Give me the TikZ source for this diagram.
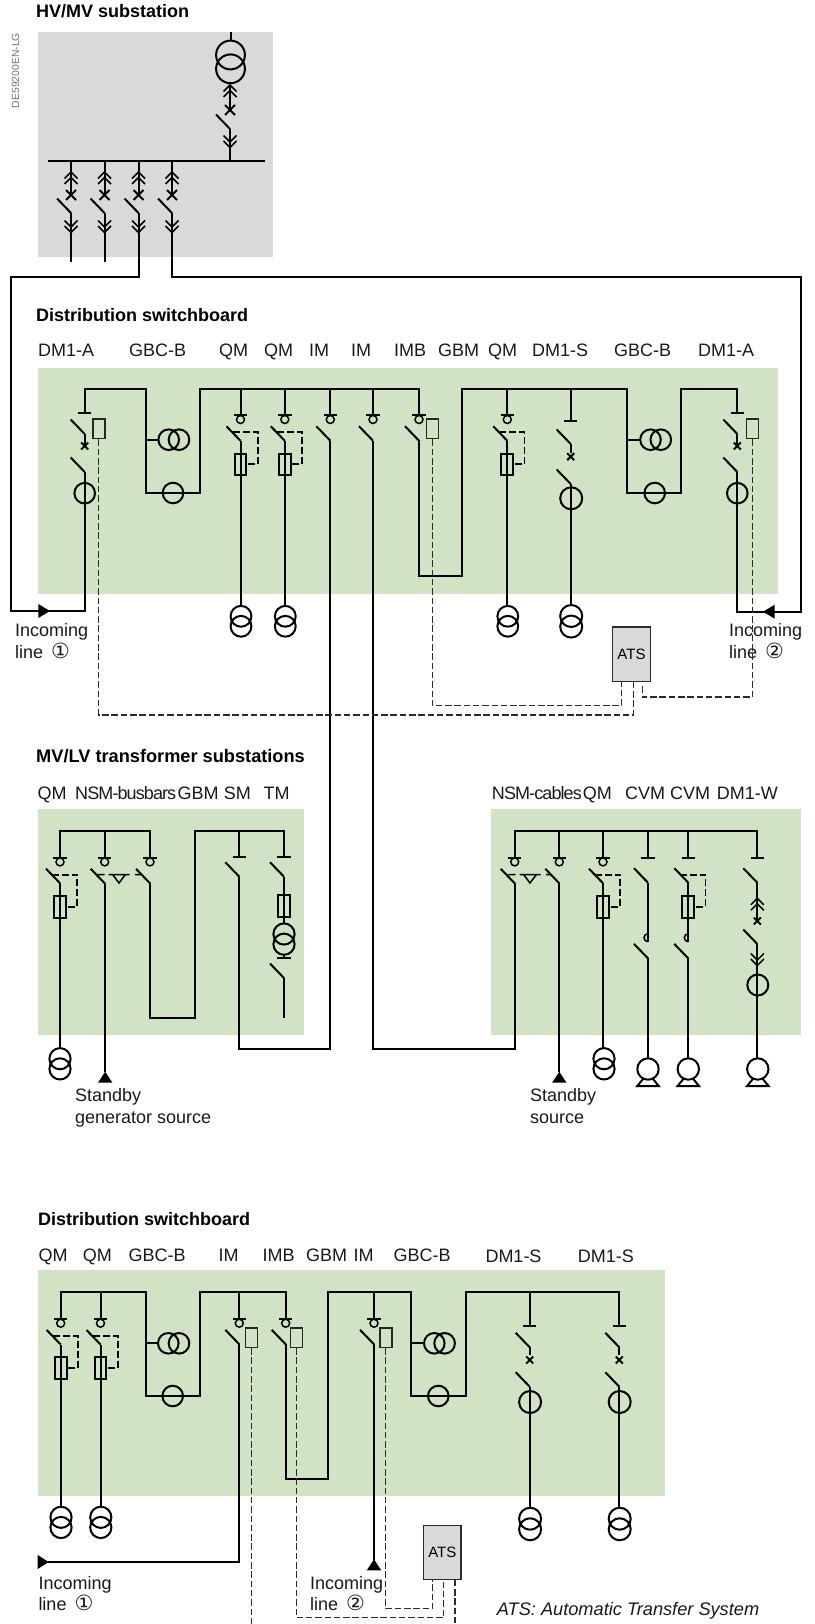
\documentclass[tikz,border=0pt]{standalone}
\usepackage{fontspec}
\setmainfont{Liberation Sans}
\newfontfamily\symbfont{DejaVu Sans}
\definecolor{panelgrey}{HTML}{D9D9D9}
\definecolor{panelgreen}{HTML}{D1E3C4}
\definecolor{ctrlgrey}{HTML}{2B2B2B}
\tikzset{
  wire/.style={line width=2pt, black},
  slim/.style={line width=1.5pt, black},
  ctrl/.style={line width=1.3pt, ctrlgrey, dash pattern=on 6.5pt off 2.8pt},
  fusedash/.style={line width=1.7pt, black, dash pattern=on 7pt off 3pt},
  coil/.style={draw=black!85, line width=1.6pt, minimum width=12pt, minimum height=19.6pt, inner sep=0pt},
  atsbox/.style={draw=ctrlgrey, line width=1.3pt, fill=panelgrey, minimum width=37.6pt, minimum height=54.4pt, inner sep=0pt, font=\fontsize{15}{15}\selectfont},
  lbl/.style={anchor=base west, inner sep=0pt, font=\fontsize{18}{18}\selectfont, text=black!90},
  title/.style={anchor=base west, inner sep=0pt, font=\fontsize{18}{18}\selectfont\bfseries},
  twoline/.style={anchor=north west, inner sep=0pt, align=left, font=\fontsize{18}{21.4}\selectfont, text=black!90}
}
% Symbols
\newcommand{\teebar}[2]{\draw[wire] (#1-6.7,#2) -- (#1+6.7,#2);}
\newcommand{\earthring}[2]{\draw[slim] (#1,#2+4.2) circle (4);}
\newcommand{\blade}[2]{\draw[wire] (#1-14,#2-14.5) -- (#1,#2);}
\newcommand{\xmark}[3][3.5]{\draw[wire] (#2-#1,#3-#1) -- (#2+#1,#3+#1) (#2-#1,#3+#1) -- (#2+#1,#3-#1);}
\newcommand{\chevup}[2]{\draw[slim] (#1-6.5,#2+6.5) -- (#1,#2) -- (#1+6.5,#2+6.5) (#1-6.5,#2+12) -- (#1,#2+5.5) -- (#1+6.5,#2+12);}
\newcommand{\chevdown}[2]{\draw[slim] (#1-6.5,#2-6.5) -- (#1,#2) -- (#1+6.5,#2-6.5) (#1-6.5,#2-1) -- (#1,#2+5.5) -- (#1+6.5,#2-1);}
\newcommand{\ctpair}[3]{\draw[wire] (#1,#2) circle (#3) (#1,#2+0.96*#3) circle (#3);}
\newcommand{\ctflat}[3]{\draw[wire] (#1,#3) circle (10.3) (#2,#3) circle (10.3);}
\newcommand{\ringct}[3][10.3]{\draw[wire] (#2,#3) circle (#1);}
\newcommand{\fusedcell}[2]{
  \teebar{#1}{#2} \earthring{#1}{#2} \blade{#1}{#2+25.5}
  \draw[wire] (#1-5.9,#2+38.3) rectangle (#1+5.9,#2+60);
  \draw[fusedash] (#1-8,#2+17) -| (#1+17.3,#2+49) -- (#1+6,#2+49);
}
\newcommand{\motor}[2]{\draw[wire] (#1,#2) circle (10.7) (#1-5,#2+10) -- (#1-10.7,#2+17) -- (#1+10.7,#2+17) -- (#1+5,#2+10);}
\newcommand{\interlock}[2]{\draw[slim] (#1-10.5,#2) -- (#1+10.5,#2) (#1-6.3,#2) -- (#1,#2+8.3) -- (#1+6.3,#2) (#1-21.7,#2) -- (#1-14.5,#2) (#1+16,#2) -- (#1+22,#2);}
\newcommand{\srcup}[2]{\fill[black] (#1,#2) -- (#1+7.2,#2+11) -- (#1-7.2,#2+11) -- cycle;}
\newcommand{\numone}{{\fontsize{21}{21.4}\selectfont\symbfont ①}}
\newcommand{\numtwo}{{\fontsize{21}{21.4}\selectfont\symbfont ②}}

\begin{document}
\begin{tikzpicture}[x=1pt, y=-1pt]
\useasboundingbox (0,0) rectangle (814,1624);
% Panels
\fill[panelgrey] (38,32) rectangle (273,257);
\fill[panelgreen] (38,368) rectangle (778,594);
\fill[panelgreen] (38,809) rectangle (304,1035);
\fill[panelgreen] (491,809) rectangle (801,1035);
\fill[panelgreen] (38,1270) rectangle (665,1496);
% Titles
\node[title] (titleHv) at (36,18) {HV/MV substation};
\node[title] (titleDsA) at (36,321) {Distribution switchboard};
\node[title, font=\fontsize{18.2}{18}\selectfont\bfseries] (titleTr) at (36,762) {MV/LV transformer substations};
\node[title] (titleDsB) at (38,1225) {Distribution switchboard};
\node[rotate=90, inner sep=0pt, text=black!55, font=\fontsize{10.4}{10.4}\selectfont] (refcode) at (15.5,70.5) {DE59200EN-LG};
% Cubicle names
\foreach \xx/\txt [count=\i] in {38/DM1-A,129/GBC-B,219/QM,264/QM,309/IM,351/IM,394/IMB,438/GBM,488/QM,532/DM1-S,614/GBC-B,698/DM1-A}
  \node[lbl] (dsa\i) at (\xx,356) {\txt};
\foreach \xx/\txt [count=\i] in {37.3/QM,177.3/GBM,223.7/SM,263.3/TM,582.7/QM,625/CVM,670/CVM,716.7/DM1-W}
  \node[lbl] (trf\i) at (\xx,799.3) {\txt};
\node[lbl] (trfBus) at (75,799.3) {\addfontfeature{LetterSpace=-5}NSM-busbars};
\node[lbl] (trfCab) at (491.7,799.3) {\addfontfeature{LetterSpace=-5}NSM-cables};
\foreach \xx/\txt [count=\i] in {38.3/QM,82.7/QM,128.3/GBC-B,218.3/IM,262.3/IMB,306/GBM,353.3/IM,393.3/GBC-B}
  \node[lbl] (dsb\i) at (\xx,1261.5) {\txt};
\node[lbl] (dsbS) at (485.3,1262.5) {DM1-S};
\node[lbl] (dsbT) at (577.7,1262.5) {DM1-S};
% Other texts
\node[twoline] (inA) at (15,623.7) {Incoming\\line\hspace{8pt}\numone};
\node[twoline] (inB) at (729,623.7) {Incoming\\line\hspace{8pt}\numtwo};
\node[twoline] (sbA) at (75,1088.7) {Standby\\generator source};
\node[twoline] (sbB) at (530,1088.7) {Standby\\source};
\node[twoline] (inC) at (38.3,1575.8) {Incoming\\line\hspace{8pt}\numone};
\node[twoline] (inD) at (310,1575.8) {Incoming\\line\hspace{8pt}\numtwo};
\node[lbl, font=\fontsize{18.2}{18}\selectfont\itshape] (atsnote) at (496.7,1615) {ATS: Automatic Transfer System};
% HV/MV substation
\draw[wire] (48,161) -- (265,161);
\draw[wire] (231,32) -- (231,41);
\ctpair{230.5}{55}{14.4}
\draw[wire] (230,85) -- (230,110);
\chevup{230}{85}
\xmark[5]{230}{110}
\blade{230}{129}
\draw[wire] (230,129) -- (230,161);
\chevdown{230}{142}
\foreach \xx in {71,104.5,138.5,172} {
  \draw[wire] (\xx,161) -- (\xx,195);
  \chevup{\xx}{172}
  \xmark[5]{\xx}{195}
  \blade{\xx}{213}
  \chevdown{\xx}{227}
}
\draw[wire] (71,213) -- (71,262);
\draw[wire] (104.5,213) -- (104.5,262);
\draw[wire] (138.5,213) -- (138.5,276.5) -- (11,276.5) -- (11,611) -- (84.7,611) -- (84.7,472.3);
\draw[wire] (172,213) -- (172,276.5) -- (801,276.5) -- (801,611.7) -- (737.3,611.7) -- (737.3,471.3);
\fill[black] (38.3,604) -- (50,611) -- (38.3,618) -- cycle;
\fill[black] (763,611.7) -- (774.7,604.7) -- (774.7,618.7) -- cycle;
% Distribution switchboard, busbars
\draw[wire] (84.7,412.3) |- (145.7,388.7) |- (200.3,493) |- (419,388.7) -- (419,415.3);
\draw[wire] (419,440) -- (419,575.7) -| (462,388.7) -| (627,493) -| (681,388.7) -| (737.3,412.3);
\draw[wire] (145.7,439.7) -- (158.4,439.7);
\draw[wire] (627,439.7) -- (640.2,439.7);
\ctflat{168.7}{179}{439.7}
\ctflat{650.5}{660.8}{439.7}
\ringct{173}{493}
\ringct{654.7}{493}
% Distribution switchboard, cubicles
\foreach \xx in {84.7,737.3} {
  \teebar{\xx}{412.8}
  \blade{\xx}{434}
  \draw[wire] (\xx,434) -- (\xx,445);
  \xmark{\xx}{446}
  \blade{\xx}{472}
  \ringct{\xx}{493.2}
}
\foreach \xx in {240.5,284.8,507.3} {
  \draw[wire] (\xx,388.7) -- (\xx,415.3);
  \fusedcell{\xx}{415.3}
  \draw[wire] (\xx,440.7) -- (\xx,606);
  \ctpair{\xx+0.5}{616.3}{10.4}
}
\foreach \xx/\yy in {330.3/440.7,373/440.7,419/440.7} {
  \teebar{\xx}{415.3}
  \earthring{\xx}{415.3}
  \blade{\xx}{\yy}
}
\draw[wire] (330.3,388.7) -- (330.3,415.3);
\draw[wire] (373,388.7) -- (373,415.3);
\draw[wire] (570.7,388.7) -- (570.7,421.3);
\teebar{570.7}{421.3}
\blade{570.7}{444}
\draw[wire] (570.7,444) -- (570.7,453);
\xmark{570.7}{456.7}
\blade{570.7}{484}
\draw[wire] (570.7,484) -- (570.7,606);
\ringct[11]{571.2}{498.3}
\ctpair{571.2}{616}{11}
% Feeders towards the transformer substations
\draw[wire] (330.3,440.7) -- (330.3,1048.7) -- (239.3,1048.7) -- (239.3,876.7);
\draw[wire] (373,440.7) -- (373,1048.7) -- (514.7,1048.7) -- (514.7,883.3);
% ATS of the first switchboard
\node[coil] (coilA) at (98.7,428.8) {};
\node[coil] (coilB) at (432.3,428.8) {};
\node[coil] (coilC) at (752.4,428.8) {};
\node[atsbox] (atsA) at (631.5,654.2) {\raisebox{-1.5pt}{ATS}};
\coordinate (atsAa) at (621.7,681.4);
\coordinate (atsAb) at (633.3,681.4);
\coordinate (atsAc) at (642.3,686);
\draw[ctrl] (coilA.south) -- (coilA.south |- 0,715) -| (atsAb);
\draw[ctrl] (coilB.south) -- (coilB.south |- 0,705.7) -| (atsAa);
\draw[ctrl] (coilC.south) -- (coilC.south |- 0,697) -| (atsAc);
% MV/LV substation, left
\draw[wire] (60,857.7) |- (150,831.3) -- (150,857.7);
\draw[wire] (104.7,831.3) -- (104.7,857.7);
\fusedcell{60}{857.7}
\draw[wire] (60,883.3) -- (60,1048);
\ctpair{60}{1058.7}{10.6}
\teebar{104.7}{857.7} \earthring{104.7}{857.7} \blade{104.7}{883.3}
\draw[wire] (104.7,883.3) -- (104.7,1072);
\srcup{105.2}{1071.7}
\interlock{119}{874.7}
\teebar{150}{857.7} \earthring{150}{857.7} \blade{150}{883.3}
\draw[wire] (150,883.3) -- (150,1018.3) -| (194.7,831.3) -| (284,856.7);
\draw[wire] (239.3,831.3) -- (239.3,856.7);
\teebar{239.3}{856.7} \blade{239.3}{876.7}
\teebar{284}{856.7} \blade{284}{876.7}
\draw[wire] (284,876.7) -- (284,924);
\draw[wire] (278.2,895) rectangle (290,916.7);
\ctpair{284}{934}{10.6}
\draw[wire] (284,954) -- (284,958.3);
\teebar{284}{958.3}
\blade{284}{978}
\draw[wire] (284,978) -- (284,1018.3);
% MV/LV substation, right
\draw[wire] (514.7,857.7) |- (757.3,831.3) -- (757.3,857.7);
\foreach \xx in {559.3,603,648,688.3} \draw[wire] (\xx,831.3) -- (\xx,857.7);
\teebar{514.7}{857.7} \earthring{514.7}{857.7} \blade{514.7}{883.3}
\teebar{559.3}{857.7} \earthring{559.3}{857.7} \blade{559.3}{883.3}
\interlock{530}{874.7}
\draw[wire] (559.3,883.3) -- (559.3,1072);
\srcup{559.3}{1071.7}
\fusedcell{603}{857.7}
\draw[wire] (603,883.3) -- (603,1048);
\ctpair{604}{1058.7}{10.6}
\teebar{648}{857.7} \blade{648}{882.7}
\teebar{688.3}{857.7} \blade{688.3}{882.7}
\draw[wire] (682.4,896) rectangle (694.2,917.7);
\draw[fusedash] (680.3,874.7) -| (705.6,906.7) -- (694.3,906.7);
\foreach \xx in {648,688.3} {
  \draw[wire] (\xx,882.7) -- (\xx,941.7);
  \draw[slim] (\xx,941.7) arc[start angle=90, end angle=270, radius=4];
  \blade{\xx}{958.4}
  \draw[wire] (\xx,958.4) -- (\xx,1058.3);
  \motor{\xx}{1069}
}
\teebar{757.3}{857.7} \blade{757.3}{882.7}
\draw[wire] (757.3,882.7) -- (757.3,921);
\chevup{757.3}{898.3}
\xmark{757.3}{921}
\blade{757.3}{944}
\draw[wire] (757.3,944) -- (757.3,1058.3);
\chevdown{757.3}{960}
\ringct[10.5]{757.8}{985}
\motor{757.8}{1069}
% Second switchboard, busbars
\draw[wire] (60.7,1319) |- (145.7,1292) |- (200,1396) |- (285.7,1292) -- (285.7,1319);
\draw[wire] (285.7,1344.3) -- (285.7,1479) -| (328.3,1292) -| (411,1396) -| (466,1292) -| (619.3,1325.7);
\draw[wire] (145.7,1343.3) -- (158,1343.3);
\draw[wire] (411,1343.3) -- (424,1343.3);
\ctflat{168.3}{179}{1343.3}
\ctflat{434.3}{444.6}{1343.3}
\ringct{172.7}{1396}
\ringct{438.3}{1396}
% Second switchboard, cubicles
\draw[wire] (100.5,1292) -- (100.5,1319);
\foreach \xx in {60.7,100.5} {
  \fusedcell{\xx}{1319}
  \draw[wire] (\xx,1344.5) -- (\xx,1506);
  \ctpair{\xx+0.3}{1517.3}{10.6}
}
\draw[wire] (239.3,1292) -- (239.3,1319);
\draw[wire] (374,1292) -- (374,1319);
\foreach \xx in {239.3,285.7,374} {
  \teebar{\xx}{1319}
  \earthring{\xx}{1319}
  \blade{\xx}{1344.3}
}
\draw[wire] (239.3,1344.3) -- (239.3,1562) -- (48,1562);
\fill[black] (37.7,1555) -- (48.7,1562) -- (37.7,1569) -- cycle;
\draw[wire] (374,1344.3) -- (374,1560);
\srcup{374}{1559.3}
\draw[wire] (529.7,1292) -- (529.7,1325.7);
\foreach \xx in {529.7,619.3} {
  \teebar{\xx}{1325.7}
  \blade{\xx}{1347.3}
  \draw[wire] (\xx,1347.3) -- (\xx,1355);
  \xmark{\xx}{1360}
  \blade{\xx}{1386.7}
  \draw[wire] (\xx,1386.7) -- (\xx,1508);
  \ringct[11]{\xx+0.4}{1402}
  \ctpair{\xx+0.4}{1518.7}{11}
}
% ATS of the second switchboard
\node[coil] (coilD) at (251.3,1337.5) {};
\node[coil] (coilE) at (296.5,1337.5) {};
\node[coil] (coilF) at (385.7,1337.5) {};
\node[atsbox] (atsB) at (442.3,1552.5) {\raisebox{-1.5pt}{ATS}};
\coordinate (atsBa) at (432.7,1579.7);
\coordinate (atsBb) at (443.7,1579.7);
\coordinate (atsBc) at (455,1579.7);
\coordinate (endD) at (251.3,1624);
\coordinate (endC) at (455,1624);
\draw[ctrl] (coilD.south) -- (endD);
\draw[ctrl] (coilE.south) -- (coilE.south |- 0,1617.7) -| (atsBb);
\draw[ctrl] (coilF.south) -- (coilF.south |- 0,1608.7) -| (atsBa);
\draw[ctrl] (atsBc) -- (endC);
\end{tikzpicture}
\end{document}
